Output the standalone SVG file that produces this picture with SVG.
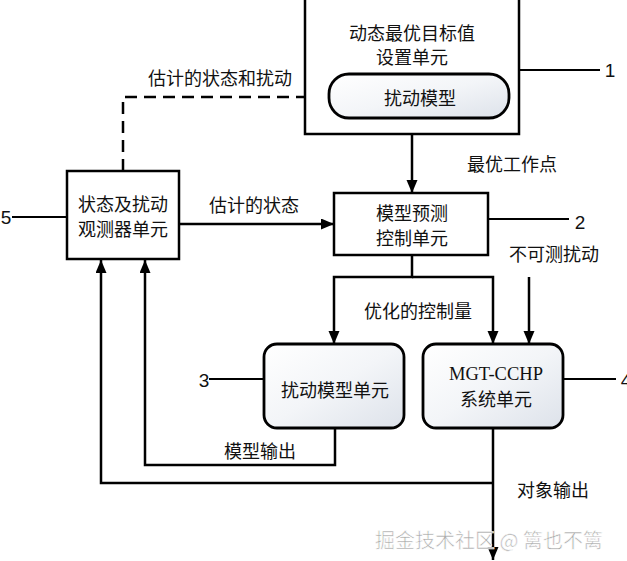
<svg xmlns="http://www.w3.org/2000/svg" width="627" height="561" viewBox="0 0 627 561">
<style>
.box{fill:#fff;stroke:#000;stroke-width:2.5}
.rbox{fill:url(#g);stroke:#000;stroke-width:2.8}
.t{font-family:"Noto Sans CJK SC","Noto Sans",sans-serif;font-size:18px;fill:#111;text-anchor:middle;dominant-baseline:central}
.num{font-family:"Liberation Sans",Arial,sans-serif;font-size:19px;fill:#111;text-anchor:middle;dominant-baseline:central}
.ser{font-family:"Liberation Serif","Times New Roman",serif;font-size:18.5px;fill:#111;text-anchor:middle;dominant-baseline:central}
.ln{fill:none;stroke:#000;stroke-width:2.5}
.ld{fill:none;stroke:#000;stroke-width:2}
.arr{marker-end:url(#ah)}
.wm{font-family:"Noto Sans CJK SC",sans-serif;font-size:20px;fill:#a8a8a8;stroke:#fff;stroke-width:0.6;text-anchor:middle;dominant-baseline:central}
</style>
<defs>
<linearGradient id="g" x1="0" y1="0" x2="1" y2="1">
<stop offset="0" stop-color="#ffffff"/>
<stop offset="0.5" stop-color="#f3f5f8"/>
<stop offset="1" stop-color="#dde2ea"/>
</linearGradient>
<marker id="ah" markerUnits="userSpaceOnUse" markerWidth="14" markerHeight="12" refX="13" refY="5.5" orient="auto">
<path d="M0,0 L13,5.5 L0,11 z" fill="#000"/>
</marker>
</defs>
<rect width="627" height="561" fill="#fff"/>

<g id="connectors">
<path class="ln arr" d="M123,171 V97 H329" stroke-dasharray="12,7"/>
<path class="ln arr" d="M412,134 V193"/>
<path class="ln arr" d="M179,224 H334"/>
<path class="ln arr" d="M412,256 V277 H334 V344"/>
<path class="ln arr" d="M412,277 H493 V344"/>
<path class="ln arr" d="M529,277 V344"/>
<path class="ln arr" d="M335,428 V465 H145 V260"/>
<path class="ln arr" d="M493,428 V560"/>
<path class="ln arr" d="M493,483 H101 V260"/>
<path class="ld" d="M520,70 H600"/>
<path class="ld" d="M489,219 H569"/>
<path class="ld" d="M264,379 H209"/>
<path class="ld" d="M563,379 H616"/>
<path class="ld" d="M66,217 H12"/>
</g>

<g id="node1">
<rect class="box" x="305" y="-5" width="214" height="139"/>
<text class="t" x="412" y="32">动态最优目标值</text>
<text class="t" x="412" y="56">设置单元</text>
<text class="num" x="610" y="70">1</text>
</g>
<g id="node1-model">
<rect class="rbox" x="329" y="74" width="180" height="44" rx="20" ry="20"/>
<text class="t" x="420" y="97">扰动模型</text>
</g>
<g id="node5">
<rect class="box" x="67" y="171" width="112" height="88"/>
<text class="t" x="123" y="203">状态及扰动</text>
<text class="t" x="123" y="228">观测器单元</text>
<text class="num" x="6" y="217">5</text>
</g>
<g id="node2">
<rect class="box" x="334" y="193" width="154" height="62"/>
<text class="t" x="412" y="212">模型预测</text>
<text class="t" x="412" y="237">控制单元</text>
<text class="num" x="580" y="222">2</text>
</g>
<g id="node3">
<rect class="rbox" x="264" y="344" width="140" height="84" rx="13" ry="13"/>
<text class="t" x="335" y="389">扰动模型单元</text>
<text class="num" x="204" y="380">3</text>
</g>
<g id="node4">
<rect class="rbox" x="423" y="344" width="140" height="84" rx="13" ry="13"/>
<text class="ser" x="496" y="374">MGT-CCHP</text>
<text class="t" x="496" y="398">系统单元</text>
<text class="num" x="626" y="380">4</text>
</g>

<g id="labels">
<text class="t" x="220" y="77">估计的状态和扰动</text>
<text class="t" x="512" y="163">最优工作点</text>
<text class="t" x="254" y="204">估计的状态</text>
<text class="t" x="554" y="253">不可测扰动</text>
<text class="t" x="418" y="310">优化的控制量</text>
<text class="t" x="260" y="450">模型输出</text>
<text class="t" x="553" y="489">对象输出</text>
<text class="wm" x="489" y="539">掘金技术社区 @ 篱也不篱</text>
</g>
</svg>
